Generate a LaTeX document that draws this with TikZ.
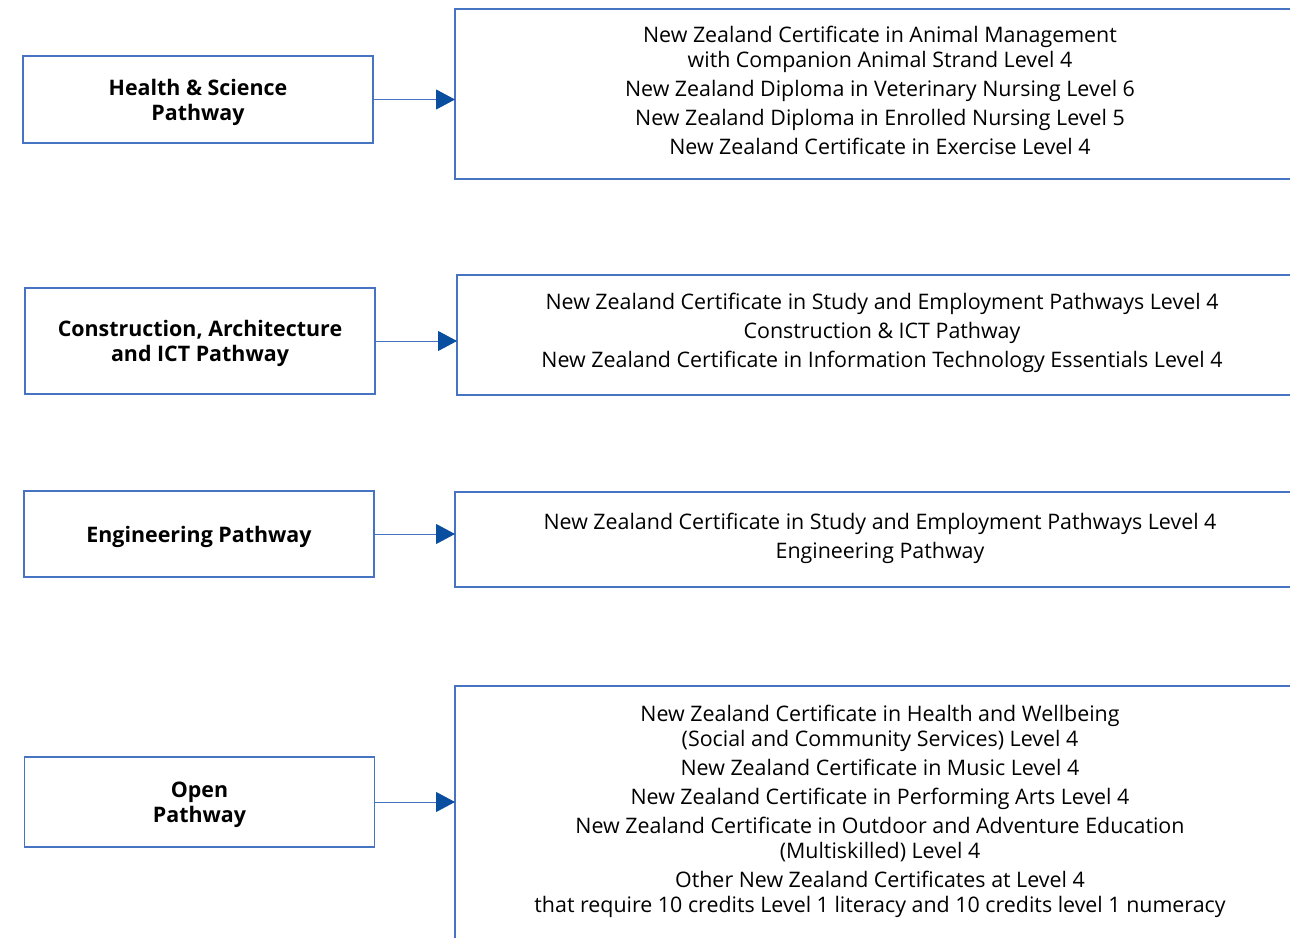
\documentclass[tikz,border=0pt]{standalone}
\usepackage{fontspec}
\setmainfont{Open Sans}
\usetikzlibrary{positioning, arrows.meta}
\definecolor{boxblue}{RGB}{70,116,194}
\definecolor{headblue}{RGB}{10,78,160}

\begin{document}
\begin{tikzpicture}[
    x=0.5pt, y=0.5pt,
    pathbox/.style={rectangle, draw=boxblue, line width=0.7pt, inner sep=0pt, outer sep=0pt,
        minimum width=175pt},
    pathtext/.style={align=center, inner sep=0pt, yshift=-1.25pt,
        font=\bfseries\fontsize{10.7}{12.5}\selectfont},
    listbox/.style={rectangle, draw=boxblue, line width=0.7pt, inner sep=0pt, outer sep=0pt,
        minimum width=425pt},
    listtext/.style={align=center, inner sep=0pt, font=\fontsize{10.7}{12.5}\selectfont},
    link/.style={draw=boxblue, line width=0.5pt, -{Triangle[length=9.5pt, width=10pt, color=headblue]}}]

    \useasboundingbox (0,0) rectangle (1290,-937);
    \clip (0,0) rectangle (1290,-937);

    % Pathways
    \node[pathbox, minimum height=43.5pt,
        label={[pathtext]center:{Health \& Science\\Pathway}}] (health) at (198,-99.5) {};
    \node[pathbox, minimum height=53pt,
        label={[pathtext]center:{Construction, Architecture\\and ICT Pathway}}] (constr) at (200,-341) {};
    \node[pathbox, minimum height=43pt,
        label={[pathtext]center:{Engineering Pathway}}] (eng) at (199,-534) {};
    \node[pathbox, minimum height=45pt,
        label={[pathtext]center:{Open\\Pathway}}] (open) at (199.5,-802) {};

    % Qualifications
    \node[listbox, minimum height=85pt,
        label={[listtext, yshift=2pt]center:{%
        New Zealand Certificate in Animal Management\\
        with Companion Animal Strand Level 4\\[2pt]
        New Zealand Diploma in Veterinary Nursing Level 6\\[2pt]
        New Zealand Diploma in Enrolled Nursing Level 5\\[2pt]
        New Zealand Certificate in Exercise Level 4}}] (healthq) at (880,-94) {};
    \node[listbox, minimum height=60pt,
        label={[listtext, yshift=1pt]center:{%
        New Zealand Certificate in Study and Employment Pathways Level 4\\[2pt]
        Construction \& ICT Pathway\\[2pt]
        New Zealand Certificate in Information Technology Essentials Level 4}}] (constrq) at (882,-335) {};
    \node[listbox, minimum height=47.5pt,
        label={[listtext, yshift=0.75pt]center:{%
        New Zealand Certificate in Study and Employment Pathways Level 4\\[2pt]
        Engineering Pathway}}] (engq) at (880,-539.5) {};
    \node[listbox, minimum height=140pt,
        label={[listtext, yshift=7.5pt]center:{%
        New Zealand Certificate in Health and Wellbeing\\
        (Social and Community Services) Level 4\\[2pt]
        New Zealand Certificate in Music Level 4\\[2pt]
        New Zealand Certificate in Performing Arts Level 4\\[2pt]
        New Zealand Certificate in Outdoor and Adventure Education\\
        (Multiskilled) Level 4\\[2pt]
        Other New Zealand Certificates at Level 4\\
        that require 10 credits Level 1 literacy and 10 credits level 1 numeracy}}] (openq) at (880,-826) {};

    % Arrows
    \draw[link] (health.east) -- (health.east -| healthq.west);
    \draw[link] (constr.east) -- (constr.east -| constrq.west);
    \draw[link] (eng.east) -- (eng.east -| engq.west);
    \draw[link] (open.east) -- (open.east -| openq.west);
\end{tikzpicture}
\end{document}
